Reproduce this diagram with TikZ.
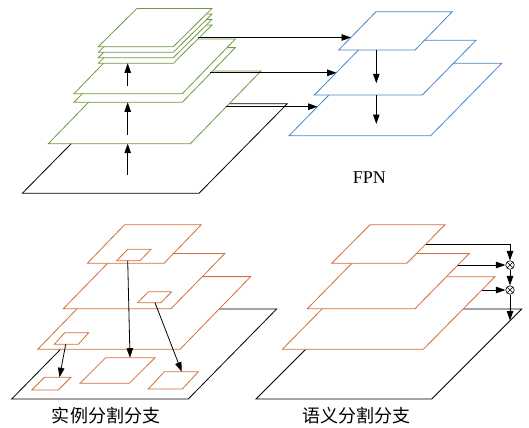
\documentclass[tikz,border=0pt]{standalone}
\usepackage{fontspec}
\setmainfont{Liberation Serif}
\newfontfamily\cjk{Noto Sans CJK SC}
\usetikzlibrary{arrows.meta}
\definecolor{gr}{HTML}{6E9A44}
\definecolor{bl}{HTML}{4A86C5}
\definecolor{orn}{HTML}{D0703A}
\tikzset{
  pl/.style={line width=0.8bp, fill=white, line join=miter},
  arr/.style={line width=0.8bp, -{Triangle[length=9.5bp,width=6.5bp]}},
  ln/.style={line width=0.8bp},
  otimes/.style={circle, draw, line width=0.6bp, fill=white, minimum size=8.5bp, inner sep=0pt,
    path picture={\draw[line width=0.5bp] (path picture bounding box.north west) -- (path picture bounding box.south east)
      (path picture bounding box.north east) -- (path picture bounding box.south west);}},
  lab/.style={font=\fontsize{18bp}{20bp}\selectfont, inner sep=0pt}
}
% plane: colour, BLx, BLy, BRx, dx, dy
\newcommand\pln[6]{\draw[pl,draw=#1] (#2,#3) -- (#4,#3) -- ++(#5,-#6) -- ++({#2-#4},0) -- cycle;}
\begin{document}
\begin{tikzpicture}[x=1bp,y=-1bp]
\useasboundingbox (0,0) rectangle (529,427);
% ---------- top-left backbone ----------
\pln{black}{22.3}{193.3}{199}{88.3}{89.6}
\pln{gr}{48.3}{143.7}{190.3}{70.7}{72.7}
\pln{gr}{74}{102.3}{182.3}{53}{54.7}
\pln{gr}{74}{93.7}{182.3}{53}{54.7}
\pln{gr}{98.3}{63.3}{173.3}{38.7}{38.3}
\pln{gr}{98.3}{57.7}{173.3}{38.7}{38.3}
\pln{gr}{98.3}{52.3}{173.3}{38.7}{38.3}
\pln{gr}{98.3}{46.7}{173.3}{38.7}{38.3}
\coordinate (b1s) at (127.7,175);   \coordinate (b1e) at (127.7,143.7);
\coordinate (b2s) at (127.7,135);   \coordinate (b2e) at (127.7,102.3);
\coordinate (b3s) at (127.7,86);    \coordinate (b3e) at (127.7,63.3);
\draw[arr] (b1s) -- (b1e);
\draw[arr] (b2s) -- (b2e);
\draw[arr] (b3s) -- (b3e);
% ---------- FPN ----------
\pln{bl}{289}{135.7}{430.7}{71}{72.4}
\pln{bl}{314.3}{95}{422.3}{53.7}{54.7}
\pln{bl}{338.7}{50}{415}{37.3}{38.3}
\coordinate (f1s) at (376.3,50);  \coordinate (f1e) at (376.3,83.3);
\coordinate (f2s) at (376.3,95);  \coordinate (f2e) at (376.3,124);
\draw[arr] (f1s) -- (f1e);
\draw[arr] (f2s) -- (f2e);
\coordinate (h1s) at (198,37.5);   \coordinate (h1e) at (351,37.5);
\coordinate (h2s) at (210,72.8);   \coordinate (h2e) at (336.6,72.8);
\coordinate (h3s) at (226.3,106.7);\coordinate (h3e) at (317.6,106.7);
\draw[arr] (h1s) -- (h1e);
\draw[arr] (h2s) -- (h2e);
\draw[arr] (h3s) -- (h3e);
\node[lab] (fpn) at (369.3,178) {FPN};
% ---------- instance branch ----------
\pln{black}{11.7}{399}{188.3}{88.3}{90}
\pln{orn}{37.7}{349.3}{180}{70.7}{72.7}
\pln{orn}{63.3}{308.7}{171}{54}{55.3}
\pln{orn}{87.3}{263.3}{164}{37.3}{38.6}
% small boxes on planes
\pln{orn}{116.7}{260.7}{140}{11}{11.4}
\pln{orn}{137.7}{302.7}{161}{10.7}{11}
\pln{orn}{54.3}{344.3}{78.3}{10.4}{11.6}
% boxes on base
\pln{orn}{31.7}{390}{58.3}{12.7}{12.7}
\pln{orn}{80}{383.3}{129.3}{25.7}{25.6}
\pln{orn}{148.3}{389}{182.3}{16}{17.3}
\coordinate (i1s) at (127.7,260.7); \coordinate (i1e) at (130,357.7);
\coordinate (i2s) at (155,302.7);   \coordinate (i2e) at (181.7,371.7);
\coordinate (i3s) at (65.7,344.3);  \coordinate (i3e) at (59.5,377.3);
\draw[arr] (i1s) -- (i1e);
\draw[arr] (i2s) -- (i2e);
\draw[arr] (i3s) -- (i3e);
\node[lab] (il) at (106,416) {\cjk 实例分割分支};
% ---------- semantic branch ----------
\pln{black}{256}{399}{431.7}{90}{90}
\pln{orn}{282.3}{349.3}{423.3}{71.7}{72.6}
\pln{orn}{307.3}{308.7}{415}{54.3}{55.3}
\pln{orn}{331.7}{263.3}{406.7}{38.3}{38.6}
\node[otimes] (m1) at (510,265) {};
\node[otimes] (m2) at (510,290) {};
\coordinate (s1s) at (425.8,244);
\coordinate (s2s) at (457.7,265);
\coordinate (s3s) at (481.5,290);
\coordinate (send) at (510,320.5);
\draw[arr] (s1s) -| (m1.north);
\draw[arr] (s2s) -- (m1.west);
\draw[arr] (s3s) -- (m2.west);
\draw[arr] (m1.south) -- (m2.north);
\draw[arr] (m2.south) -- (send);
\node[lab] (sl) at (356,416) {\cjk 语义分割分支};
\end{tikzpicture}
\end{document}
